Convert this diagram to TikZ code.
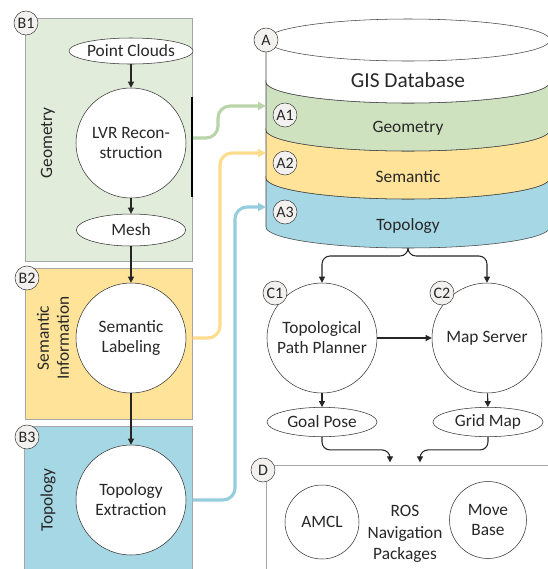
\documentclass[tikz,border=0pt]{standalone}
\usepackage{fontspec}
\setmainfont{Carlito}
\usetikzlibrary{shapes.geometric,arrows.meta}
\definecolor{geofill}{RGB}{226,236,218}
\definecolor{geoband}{RGB}{207,226,192}
\definecolor{geoline}{RGB}{184,212,168}
\definecolor{semfill}{RGB}{254,227,152}
\definecolor{semline}{RGB}{253,220,140}
\definecolor{topfill}{RGB}{166,215,228}
\definecolor{topline}{RGB}{150,205,222}
\definecolor{tagfill}{RGB}{243,241,239}
\definecolor{txt}{RGB}{40,40,40}
\begin{document}
\begin{tikzpicture}[x=0.75pt, y=0.75pt, >={Triangle[length=4.5pt,width=4.5pt]},
  every node/.style={font=\fontsize{13}{15}\selectfont, text=txt},
  tag/.style={circle, draw=black!75, fill=tagfill, inner sep=0pt, minimum size=18pt, font=\fontsize{12}{12}\selectfont},
  area/.style={draw=black!35, anchor=north west, inner sep=0pt},
  proc/.style={circle, draw=black!80, fill=white, minimum size=82.5pt, inner sep=1pt, align=center},
  data/.style={ellipse, draw=black!80, fill=white, inner sep=0pt, minimum width=82pt, minimum height=21pt},
  flow/.style={->, black!85, line width=0.8pt},
  feed/.style={-{Triangle[length=6pt,width=6pt]}, line width=2.3pt, rounded corners=9pt}]
\useasboundingbox (0,0) rectangle (548,-569);
\fill[white] (0,0) rectangle (548,-569);

% left column: the three input stages
\node[area, fill=geofill, minimum width=125.25pt, minimum height=182.25pt] (b1) at (25,-18) {};
\node[area, fill=semfill, minimum width=125.25pt, minimum height=113.25pt] (b2) at (25,-268) {};
\node[area, fill=topfill, minimum width=126pt, minimum height=111.75pt] (b3) at (24,-426) {};
\node[rotate=90] (geolbl) at (48,-143) {Geometry};
\node[rotate=90, align=center] (semlbl) at (53,-338) {Semantic\\Information};
\node[rotate=90] (toplbl) at (48,-500) {Topology};

\node[data, minimum width=81pt, minimum height=19.5pt] (pc) at (131,-51) {Point Clouds};
\node[proc] (lvr) at (131,-143) {LVR Recon-\\struction};
\node[data, minimum height=24pt] (mesh) at (131,-230) {Mesh};
\node[proc] (semlab) at (131,-338) {Semantic\\Labeling};
\node[proc] (topex) at (131,-500) {Topology\\Extraction};
\draw[line width=2pt] (192,-97) -- (192,-197);
\coordinate (geoout) at (193,-138);

\draw[flow] (pc) -- (lvr);
\draw[flow] (lvr) -- (mesh);
\draw[flow] (mesh) -- (semlab);
\draw[flow] (semlab) -- (topex);

% GIS database cylinder
\draw[black!75, fill=topfill] (266,-178) -- (266,-227) arc[start angle=180, end angle=360, x radius=106.5pt, y radius=15.75pt] -- (550,-178) arc[start angle=0, end angle=-180, x radius=106.5pt, y radius=15.75pt] -- cycle;
\draw[black!75, fill=semfill] (266,-130) -- (266,-178) arc[start angle=180, end angle=360, x radius=106.5pt, y radius=15.75pt] -- (550,-130) arc[start angle=0, end angle=-180, x radius=106.5pt, y radius=15.75pt] -- cycle;
\draw[black!75, fill=geoband] (266,-82) -- (266,-130) arc[start angle=180, end angle=360, x radius=106.5pt, y radius=15.75pt] -- (550,-82) arc[start angle=0, end angle=-180, x radius=106.5pt, y radius=15.75pt] -- cycle;
\draw[black!75, fill=white] (266,-40) -- (266,-82) arc[start angle=180, end angle=360, x radius=106.5pt, y radius=15.75pt] -- (550,-40) -- cycle;
\draw[black!75, fill=white] (408,-40) ellipse[x radius=106.5pt, y radius=15.75pt];
\node[font=\fontsize{16}{18}\selectfont] (gis) at (408,-80) {GIS Database};
\node (gisgeo) at (408,-128) {Geometry};
\node (gissem) at (408,-177) {Semantic};
\node (gistop) at (408,-226) {Topology};
\coordinate (gisbot) at (408,-248);
\coordinate (inA1) at (266,-106);
\coordinate (inA2) at (266,-153);
\coordinate (inA3) at (266,-207);

% feeds into the database
\draw[feed, geoline] (geoout) -| ([xshift=-36pt]inA1) -- (inA1);
\draw[feed, semline] (semlab.east -| b2.east) -| ([xshift=-34.5pt]inA2) -- (inA2);
\draw[feed, topline] (topex.east -| b3.east) -| ([xshift=-23.25pt]inA3) -- (inA3);

% consumers
\node[proc] (topo) at (322,-338) {Topological\\Path Planner};
\node[proc] (mapsrv) at (487,-338) {Map Server};
\node[data, minimum width=82.5pt, minimum height=22pt] (goal) at (322,-422) {Goal Pose};
\node[data, minimum width=82.5pt, minimum height=22pt] (grid) at (488,-422) {Grid Map};
\draw[flow, rounded corners=6pt] (gisbot) -- ++(0,-8) -| (topo);
\draw[flow, rounded corners=6pt] (gisbot) -- ++(0,-8) -| (mapsrv);
\draw[flow] (topo) -- (mapsrv);
\draw[flow] (topo) -- (goal);
\draw[flow] (mapsrv) -- (grid);

% ROS navigation
\node[area, minimum width=225pt, minimum height=90pt] (dbox) at (266,-465) {};
\node[circle, draw=black!80, minimum size=55.5pt, inner sep=0pt] (amcl) at (322,-522) {AMCL};
\node[circle, draw=black!80, minimum size=57.75pt, inner sep=0pt, align=center] (move) at (488,-520) {Move\\Base};
\node[align=center, font=\fontsize{13}{16}\selectfont] (ros) at (405,-534) {ROS\\Navigation\\Packages};
\coordinate (din1) at ([xshift=93pt]dbox.north west);
\coordinate (din2) at ([xshift=115.5pt]dbox.north west);
\draw[flow, rounded corners=6pt] (goal.south) -- ++(0,-13) -| ([yshift=2pt]din1);
\draw[flow, rounded corners=6pt] (grid.south) -- ++(0,-13) -| ([yshift=2pt]din2);

% tags
\node[tag] (tB1) at (26,-23) {B1};
\node[tag] (tB2) at (27,-278) {B2};
\node[tag] (tB3) at (27,-437) {B3};
\node[tag] (tA) at (266,-40) {A};
\node[tag] (tA1) at (285,-115) {A1};
\node[tag] (tA2) at (285,-163) {A2};
\node[tag] (tA3) at (285,-212) {A3};
\node[tag] (tC1) at (275,-293) {C1};
\node[tag] (tC2) at (442,-293) {C2};
\node[tag] (tD) at (263,-470) {D};
\end{tikzpicture}
\end{document}
